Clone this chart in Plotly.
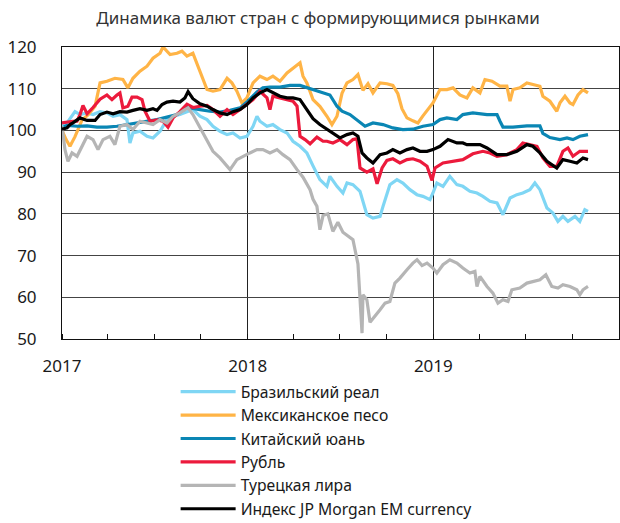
import plotly.graph_objects as go
from datetime import datetime

# ---------------- DATA (time as decimal year, values index 2017=100) ----------------
brl_t = [2017.000, 2017.027, 2017.070, 2017.097, 2017.135, 2017.167, 2017.205, 2017.242, 2017.275, 2017.312,
         2017.350, 2017.366, 2017.382, 2017.420, 2017.458, 2017.490, 2017.528, 2017.565, 2017.598, 2017.635,
         2017.673, 2017.705, 2017.743, 2017.781, 2017.813, 2017.851, 2017.889, 2017.921, 2017.959, 2017.996,
         2018.029, 2018.050, 2018.066, 2018.104, 2018.136, 2018.174, 2018.212, 2018.244, 2018.282, 2018.319,
         2018.352, 2018.389, 2018.427, 2018.443, 2018.481, 2018.513, 2018.535, 2018.567, 2018.605, 2018.642,
         2018.675, 2018.713, 2018.729, 2018.766, 2018.804, 2018.836, 2018.874, 2018.912, 2018.944, 2018.982,
         2018.998, 2019.019, 2019.052, 2019.089, 2019.127, 2019.159, 2019.197, 2019.235, 2019.267, 2019.305,
         2019.343, 2019.375, 2019.413, 2019.450, 2019.482, 2019.520, 2019.547, 2019.574, 2019.612, 2019.644,
         2019.671, 2019.698, 2019.725, 2019.763, 2019.789, 2019.816, 2019.833]
brl_v = [101, 101.8, 104.5, 103.8, 104.2, 103.8, 104.5, 104.2, 103.4, 103.8,
         102.6, 97, 99.4, 99.8, 98.6, 98.2, 99.8, 102.6, 103.4, 103.8,
         104.5, 105, 103.4, 102.6, 101, 99.8, 99, 99.4, 98.2, 98.6,
         101, 103.4, 102.2, 101, 101.4, 100.2, 99.4, 97.4, 96.2, 94.6,
         91.5, 88.2, 86.6, 89, 86.6, 85, 87.4, 87, 85.4, 79.8,
         79, 79.4, 81.8, 87, 88.2, 87.4, 85.8, 84.6, 84.2, 83.4,
         85, 87.4, 86.6, 89, 87, 86.6, 85.4, 85, 84.2, 83,
         82.6, 79.8, 83.8, 84.6, 85, 85.8, 87.4, 85.8, 81.4, 80.2,
         78.2, 79.4, 78.2, 79.4, 78.2, 81, 80.6]

mxn_t = [2017.000, 2017.022, 2017.043, 2017.070, 2017.108, 2017.140, 2017.178, 2017.205, 2017.242, 2017.285,
         2017.328, 2017.355, 2017.382, 2017.420, 2017.458, 2017.490, 2017.528, 2017.544, 2017.582, 2017.619,
         2017.646, 2017.673, 2017.705, 2017.727, 2017.754, 2017.781, 2017.813, 2017.851, 2017.889, 2017.915,
         2017.942, 2017.969, 2017.996, 2018.029, 2018.066, 2018.104, 2018.136, 2018.174, 2018.212, 2018.244,
         2018.282, 2018.298, 2018.319, 2018.352, 2018.389, 2018.427, 2018.454, 2018.481, 2018.508, 2018.535,
         2018.567, 2018.594, 2018.621, 2018.648, 2018.675, 2018.713, 2018.750, 2018.782, 2018.809, 2018.831,
         2018.858, 2018.890, 2018.917, 2018.944, 2018.971, 2018.998, 2019.036, 2019.073, 2019.106, 2019.143,
         2019.181, 2019.213, 2019.251, 2019.278, 2019.316, 2019.359, 2019.396, 2019.413, 2019.429, 2019.466,
         2019.504, 2019.536, 2019.574, 2019.590, 2019.628, 2019.665, 2019.682, 2019.709, 2019.736, 2019.752,
         2019.779, 2019.806, 2019.833]
mxn_v = [100, 97.8, 96.2, 98.5, 102.5, 103.7, 105.8, 111.4, 111.8, 112.5,
         112.2, 110.2, 112.5, 114.2, 115.4, 117.3, 118.5, 120, 118.2, 118.5,
         119, 117.8, 118.5, 116, 113, 109.8, 109.4, 109.8, 112.5, 111.4,
         109.4, 106.6, 107.8, 111.4, 113, 112.2, 113, 111.8, 113.8, 115,
         116.2, 113, 111.4, 107.4, 105.8, 103.4, 101.4, 103.4, 108.9, 111.4,
         112.2, 113.4, 109.6, 111.2, 109, 111.4, 111.2, 110.8, 108.8, 105.2,
         103, 102.3, 101.8, 103.5, 105, 106.6, 109.8, 109.8, 110.2, 108.5,
         107.8, 110.2, 109, 112.2, 111.8, 110.6, 110.6, 107, 109.8, 110.2,
         111.4, 111, 110.6, 108.2, 107, 104.6, 106.6, 108.2, 106.6, 106.2,
         108.5, 109.8, 109]

cny_t = [2017.000, 2017.027, 2017.081, 2017.135, 2017.188, 2017.242, 2017.296, 2017.350, 2017.404, 2017.458,
         2017.512, 2017.565, 2017.619, 2017.673, 2017.705, 2017.743, 2017.797, 2017.851, 2017.905, 2017.959,
         2018.001, 2018.050, 2018.082, 2018.120, 2018.174, 2018.228, 2018.282, 2018.336, 2018.389, 2018.443,
         2018.481, 2018.508, 2018.551, 2018.605, 2018.632, 2018.675, 2018.729, 2018.782, 2018.836, 2018.890,
         2018.944, 2018.998, 2019.036, 2019.073, 2019.127, 2019.159, 2019.213, 2019.289, 2019.343, 2019.359,
         2019.375, 2019.429, 2019.504, 2019.574, 2019.590, 2019.628, 2019.682, 2019.720, 2019.752, 2019.789,
         2019.833]
cny_v = [100.6, 101.2, 101, 101.1, 100.8, 100.8, 101, 101.4, 101.9, 102.2,
         102.6, 103.2, 103.8, 105.5, 105.2, 105, 104.6, 104.4, 104.8, 105.4,
         107, 109.2, 110.2, 110.4, 110.4, 110.8, 110.8, 110, 109.4, 108.5,
         105.8, 104.6, 103.8, 101.8, 101, 101.8, 101.4, 100.6, 100.2, 100.3,
         101, 101.4, 102.6, 103, 102.6, 103.8, 104.2, 103.8, 103.8, 102.2,
         100.8, 100.8, 101.1, 101.1, 99.3, 98.3, 97.8, 98.2, 97.8, 98.6,
         99]

rub_t = [2017.000, 2017.027, 2017.059, 2017.081, 2017.097, 2017.113, 2017.135, 2017.167, 2017.205, 2017.242,
         2017.269, 2017.296, 2017.312, 2017.328, 2017.355, 2017.377, 2017.404, 2017.431, 2017.447, 2017.474,
         2017.512, 2017.544, 2017.571, 2017.598, 2017.635, 2017.673, 2017.705, 2017.743, 2017.781, 2017.813,
         2017.851, 2017.889, 2017.921, 2017.959, 2017.996, 2018.029, 2018.066, 2018.104, 2018.120, 2018.136,
         2018.174, 2018.212, 2018.244, 2018.266, 2018.282, 2018.309, 2018.336, 2018.373, 2018.406, 2018.427,
         2018.459, 2018.497, 2018.535, 2018.567, 2018.589, 2018.605, 2018.642, 2018.675, 2018.697, 2018.724,
         2018.750, 2018.782, 2018.820, 2018.858, 2018.890, 2018.928, 2018.966, 2018.993, 2019.009, 2019.052,
         2019.106, 2019.159, 2019.213, 2019.267, 2019.305, 2019.343, 2019.396, 2019.450, 2019.482, 2019.520,
         2019.558, 2019.590, 2019.628, 2019.665, 2019.698, 2019.725, 2019.752, 2019.789, 2019.833]
rub_v = [101.8, 102, 102.2, 102.2, 103.8, 106, 104, 105.5, 107.5, 108.5,
         107.4, 108.5, 109, 105.4, 105.8, 108, 108, 107.4, 104.6, 102.2,
         102.5, 102.2, 100.8, 103, 104.5, 106.3, 105.5, 105.8, 106, 105,
         103.4, 105, 103.8, 105, 106.2, 107.4, 109.4, 107.8, 105, 108.2,
         107.8, 107.4, 107, 105.8, 98.6, 97.8, 96.8, 98.4, 97.4, 97.4,
         97, 97.8, 96.6, 97.8, 98, 91, 90, 90.8, 87.2, 91,
         92.8, 93.2, 92.2, 93, 93.2, 92.6, 91.4, 88, 91, 92.2,
         92.6, 93, 94.4, 95, 94.6, 93.8, 94.2, 95.4, 97, 96.6,
         96.2, 93.4, 91.4, 91.4, 95, 95.8, 93.8, 95, 95]

try_t = [2017.000, 2017.016, 2017.032, 2017.054, 2017.081, 2017.108, 2017.135, 2017.167, 2017.194, 2017.221,
         2017.258, 2017.285, 2017.312, 2017.350, 2017.382, 2017.420, 2017.458, 2017.490, 2017.528, 2017.565,
         2017.598, 2017.635, 2017.662, 2017.679, 2017.705, 2017.743, 2017.781, 2017.813, 2017.851, 2017.889,
         2017.905, 2017.942, 2017.975, 2018.012, 2018.050, 2018.082, 2018.120, 2018.158, 2018.190, 2018.228,
         2018.266, 2018.298, 2018.336, 2018.352, 2018.373, 2018.389, 2018.406, 2018.432, 2018.459, 2018.486,
         2018.513, 2018.540, 2018.567, 2018.594, 2018.605, 2018.616, 2018.621, 2018.642, 2018.659, 2018.686,
         2018.713, 2018.740, 2018.766, 2018.793, 2018.820, 2018.858, 2018.890, 2018.912, 2018.939, 2018.966,
         2018.998, 2019.019, 2019.052, 2019.089, 2019.127, 2019.159, 2019.197, 2019.224, 2019.235, 2019.251,
         2019.289, 2019.321, 2019.348, 2019.375, 2019.402, 2019.423, 2019.466, 2019.504, 2019.536, 2019.574,
         2019.606, 2019.638, 2019.671, 2019.698, 2019.736, 2019.773, 2019.789, 2019.806, 2019.833]
try_v = [101, 95.4, 92.6, 94.6, 93.8, 96.2, 98.6, 97.8, 95.4, 97.8,
         98.6, 96.6, 101, 101.4, 100.2, 102.2, 101.8, 101.4, 102.6, 101.8,
         103.4, 104.2, 105, 105.4, 103.8, 100.6, 97.8, 95, 93.4, 91.4,
         90.6, 93, 93.8, 94.6, 95.4, 95.4, 94.6, 95.4, 94.2, 93,
         90.6, 88.8, 85.8, 83.5, 81.8, 76.2, 79.6, 80, 75.8, 78,
         75.6, 74.8, 73.8, 68, 60, 51.4, 60.6, 59.4, 54, 55.4,
         57, 58.6, 59, 63.4, 64.6, 66.6, 68.2, 69, 67.6, 68.2,
         67, 65.8, 67.8, 69, 68.2, 67, 65.8, 66.2, 62.6, 65,
         62.6, 61, 58.6, 59.4, 59, 61.8, 62.2, 63.4, 63.8, 64.2,
         65.4, 62.6, 62.2, 63, 62.6, 61.8, 60.6, 61.8, 62.6]

emci_t = [2017.000, 2017.027, 2017.043, 2017.059, 2017.097, 2017.135, 2017.178, 2017.205, 2017.242, 2017.275,
          2017.312, 2017.350, 2017.382, 2017.420, 2017.458, 2017.490, 2017.512, 2017.539, 2017.565, 2017.598,
          2017.635, 2017.662, 2017.679, 2017.705, 2017.743, 2017.781, 2017.813, 2017.851, 2017.889, 2017.921,
          2017.959, 2017.996, 2018.029, 2018.066, 2018.104, 2018.136, 2018.174, 2018.212, 2018.244, 2018.282,
          2018.319, 2018.352, 2018.389, 2018.427, 2018.459, 2018.497, 2018.535, 2018.567, 2018.594, 2018.616,
          2018.642, 2018.675, 2018.713, 2018.750, 2018.782, 2018.820, 2018.858, 2018.890, 2018.928, 2018.966,
          2018.998, 2019.036, 2019.079, 2019.127, 2019.159, 2019.181, 2019.213, 2019.251, 2019.289, 2019.343,
          2019.396, 2019.450, 2019.504, 2019.536, 2019.574, 2019.612, 2019.665, 2019.698, 2019.736, 2019.773,
          2019.806, 2019.833]
emci_v = [100.3, 100.6, 101.4, 101.8, 103, 102.4, 102.4, 103.8, 104.4, 104,
          104.5, 104.4, 104.8, 105.2, 104.8, 105.2, 104.8, 106.2, 106.8, 107,
          106.8, 107.8, 109.3, 107.6, 106.4, 105.8, 105, 104.2, 103.8, 104.5,
          105, 106.2, 107.8, 109, 109.8, 109, 108.2, 107.8, 107.8, 107.4,
          104.8, 102.8, 101.4, 100.2, 99.4, 98.2, 99, 99.4, 98.6, 94.6,
          93.4, 92.2, 94.2, 94.6, 95.4, 94.6, 95.4, 95.8, 95, 95,
          95.4, 96.2, 97.8, 97, 97, 96.6, 96.6, 96.6, 95.8, 94.2,
          94.2, 95, 96.6, 96.2, 94.6, 92.6, 91, 93, 92.6, 92.2,
          93.4, 93]

series_names = ["Бразильский реал", "Мексиканское песо", "Китайский юань",
                "Рубль", "Турецкая лира", "Индекс JP Morgan EM currency"]
series_colors = ["#7fd6f4", "#ffb446", "#0a86b4", "#ec1a3c", "#b5b5b5", "#000000"]
year_ticks = [2017, 2018, 2019]
title_text = "Динамика валют стран с формирующимися рынками"


def to_dates(ts):
    out = []
    for t in ts:
        y = int(t)
        start, end = datetime(y, 1, 1), datetime(y + 1, 1, 1)
        out.append(start + (end - start) * (t - y))
    return out


series = [(brl_t, brl_v), (mxn_t, mxn_v), (cny_t, cny_v),
          (rub_t, rub_v), (try_t, try_v), (emci_t, emci_v)]

fig = go.Figure()
for (t, v), name, col in zip(series, series_names, series_colors):
    fig.add_trace(go.Scatter(x=to_dates(t), y=v, mode="lines", name=name,
                             line=dict(color=col, width=3.2)))

FONT = "Noto Sans"
fig.update_layout(
    width=620, height=523,
    margin=dict(l=62, r=1, t=47, b=184, autoexpand=False),
    paper_bgcolor="white", plot_bgcolor="white",
    font=dict(family=FONT, size=17, color="#1a1a1a"),
    title=dict(text=title_text, x=0.513, xanchor="center", y=0.965, yanchor="middle",
               font=dict(family=FONT, size=17, color="#333333")),
    legend=dict(x=0.204, xref="paper", y=0.283, yref="container",
                xanchor="left", yanchor="top",
                font=dict(family=FONT, size=15.7, color="#1a1a1a"),
                itemwidth=55, bgcolor="rgba(0,0,0,0)", tracegroupgap=0),
    showlegend=True,
)
fig.update_xaxes(
    type="date", range=["2017-01-01", "2020-01-01"],
    tickvals=[datetime(y, 1, 1) for y in year_ticks],
    ticktext=[str(y) for y in year_ticks],
    showgrid=True, gridcolor="#222222", gridwidth=1,
    showline=True, mirror=True, linecolor="#111111", linewidth=1,
    ticks="", ticklabelstandoff=12, zeroline=False,
    minor=dict(dtick="M3", ticks="inside", ticklen=5, tickcolor="#111111", showgrid=False),
)
fig.update_yaxes(
    range=[50, 120], dtick=10,
    showgrid=True, gridcolor="#444444", gridwidth=1,
    showline=True, mirror=True, linecolor="#111111", linewidth=1,
    ticks="", ticklabelstandoff=21, zeroline=False,
)

fig.write_html("out.html",
               config={"displayModeBar": False},
               post_script="document.body.style.margin='0px';document.body.style.overflow='hidden';")
